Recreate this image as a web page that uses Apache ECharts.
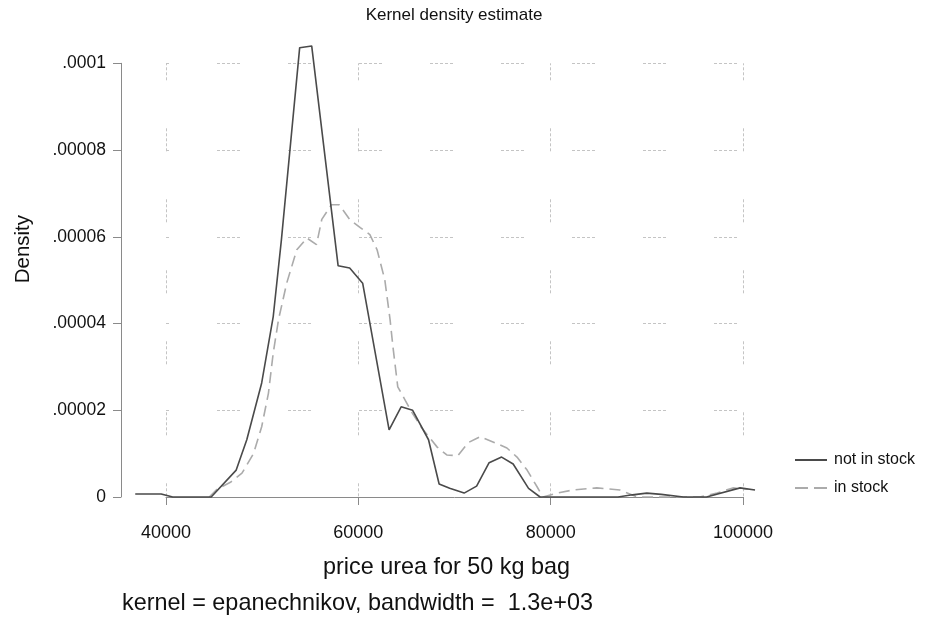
<!DOCTYPE html>
<html>
<head>
<meta charset="utf-8">
<script src="https://cdn.jsdelivr.net/npm/echarts@6/dist/echarts.min.js"></script>
<style>
  html, body { margin: 0; padding: 0; background: #fff; }
  #chart { width: 927px; height: 619px; }
</style>
</head>
<body>
<div id="chart"></div>
<script>
// Kernel density estimates of urea price, [price, density] pairs
const notInStock = [
  [36800, 0.0000007], [39500, 0.0000007], [40700, 0], [44700, 0],
  [47300, 0.0000062], [48400, 0.0000132], [49950, 0.0000263], [51150, 0.0000416],
  [52000, 0.0000593], [53900, 0.0001036], [55150, 0.000104], [57900, 0.0000533],
  [59100, 0.0000528], [60450, 0.0000493], [63200, 0.0000155], [64450, 0.0000208],
  [65650, 0.0000200], [67300, 0.0000132], [68400, 0.0000030], [69500, 0.0000020],
  [71000, 0.0000009], [72300, 0.0000025], [73600, 0.0000079], [74900, 0.0000092],
  [76100, 0.0000076], [77700, 0.0000020], [78900, 0], [87000, 0],
  [88500, 0.0000005], [90000, 0.0000009], [91500, 0.0000006], [93800, 0],
  [96200, 0], [99700, 0.0000021], [101250, 0.0000016]
];
const inStock = [
  [44500, 0], [45300, 0.0000018], [46700, 0.0000034], [47900, 0.0000055],
  [49100, 0.0000100], [49950, 0.0000162], [50650, 0.0000239], [51150, 0.0000332],
  [51700, 0.0000409], [52550, 0.0000493], [53600, 0.0000570], [54650, 0.0000597],
  [55650, 0.0000582], [56200, 0.0000640], [57200, 0.0000674], [58000, 0.0000674],
  [59100, 0.0000640], [60200, 0.0000621], [61200, 0.0000605], [61950, 0.0000570],
  [62750, 0.0000501], [63300, 0.0000409], [63600, 0.0000346], [64100, 0.0000254],
  [64850, 0.0000224], [65600, 0.0000194], [66600, 0.0000159], [68200, 0.0000115],
  [69200, 0.0000097], [70350, 0.0000095], [71400, 0.0000125], [72650, 0.0000139],
  [74000, 0.0000127], [75450, 0.0000113], [76500, 0.0000092], [77550, 0.0000062],
  [78600, 0.0000023], [79200, 0], [80650, 0.0000009], [82300, 0.0000016],
  [84800, 0.0000021], [87200, 0.0000016], [89000, 0], [95500, 0],
  [97300, 0.0000009], [98950, 0.0000021], [100500, 0.0000018]
];
const seriesNames = ['not in stock', 'in stock'];
const xTicks = [40000, 60000, 80000, 100000];
const yTicks = [0, 0.00002, 0.00004, 0.00006, 0.00008, 0.0001];
const yTickLabels = ['0', '.00002', '.00004', '.00006', '.00008', '.0001'];
// full price range covered by the estimates (curves run past the labelled ticks)
const xDataRange = [36000, 102000];

const FONT = '"Liberation Sans", Arial, Helvetica, sans-serif';
const gridDash = [3, 2, 3, 2, 3, 2, 3, 2, 3, 48];
const AXIS_GREY = '#8a8a8a';
const SOLID_COL = '#4a4a4a';
const DASH_COL = '#ababab';

// pixel layout: tick range 40000..100000 spans x 166..743, 0..0.0001 spans y 497..63.3
const PX_LEFT = 166, PX_RIGHT = 743, PX_TOP = 63.3, PX_BOTTOM = 497, W = 927, H = 619;
const pxPerUnit = (PX_RIGHT - PX_LEFT) / (xTicks[xTicks.length - 1] - xTicks[0]);
const dataLeft = PX_LEFT - (xTicks[0] - xDataRange[0]) * pxPerUnit;
const dataRight = PX_RIGHT + (xDataRange[1] - xTicks[xTicks.length - 1]) * pxPerUnit;

const chart = echarts.init(document.getElementById('chart'), null, { renderer: 'canvas' });

chart.setOption({
  backgroundColor: '#ffffff',
  animation: false,
  title: [
    {
      text: 'Kernel density estimate',
      left: 454, top: 7, textAlign: 'center', padding: 0,
      textStyle: { fontFamily: FONT, fontSize: 17, fontWeight: 'normal', color: '#111' }
    },
    {
      text: 'kernel = epanechnikov, bandwidth =  1.3e+03',
      left: 122, top: 592, padding: 0,
      textStyle: { fontFamily: FONT, fontSize: 23.4, fontWeight: 'normal', color: '#111' }
    }
  ],
  legend: {
    orient: 'vertical',
    left: 790, top: 447,
    itemWidth: 32, itemHeight: 2, itemGap: 12,
    data: [
      { name: seriesNames[0], icon: 'rect' },
      { name: seriesNames[1], icon: 'path://M0,0H13V2H0Z M19,0H32V2H19Z' }
    ],
    textStyle: { fontFamily: FONT, fontSize: 16, color: '#111', lineHeight: 16, padding: [0, 0, 0, 2] }
  },
  grid: [
    // axes, ticks and grid lines
    { left: PX_LEFT, right: W - PX_RIGHT, top: PX_TOP, bottom: H - PX_BOTTOM },
    // plotting area for the curves, covering the whole estimated range
    { left: dataLeft, right: W - dataRight, top: PX_TOP, bottom: H - PX_BOTTOM }
  ],
  xAxis: [
    {
      gridIndex: 0, type: 'value',
      min: xTicks[0], max: xTicks[xTicks.length - 1], interval: 20000,
      offset: 17,
      name: 'price urea for 50 kg bag',
      nameLocation: 'middle', nameGap: 42,
      nameTextStyle: { fontFamily: FONT, fontSize: 23.4, color: '#111', padding: [0, 16, 0, 0] },
      axisLine: { show: true, lineStyle: { color: AXIS_GREY, width: 1 } },
      axisTick: { show: true, length: 8, lineStyle: { color: AXIS_GREY } },
      axisLabel: { margin: 10, fontFamily: FONT, fontSize: 18, color: '#111', formatter: v => String(v) },
      splitLine: { show: true, lineStyle: { color: '#c4c4c4', width: 1, type: gridDash, dashOffset: 6 } }
    },
    {
      gridIndex: 1, type: 'value', show: false,
      min: xDataRange[0], max: xDataRange[1]
    }
  ],
  yAxis: [
    {
      gridIndex: 0, type: 'value',
      min: yTicks[0], max: yTicks[yTicks.length - 1], interval: 0.00002,
      offset: 45,
      name: 'Density',
      nameLocation: 'middle', nameGap: 87, nameRotate: 90,
      nameTextStyle: { fontFamily: FONT, fontSize: 20.5, color: '#111', padding: [0, 0, 0, 62] },
      axisLine: { show: true, lineStyle: { color: AXIS_GREY, width: 1 } },
      axisTick: { show: true, length: 8, lineStyle: { color: AXIS_GREY } },
      axisLabel: {
        margin: 15, fontFamily: FONT, fontSize: 17.5, color: '#111',
        formatter: v => {
          const i = yTicks.findIndex(t => Math.abs(t - v) < 1e-9);
          return i >= 0 ? yTickLabels[i] : '';
        }
      },
      splitLine: { show: true, lineStyle: { color: '#c4c4c4', width: 1, type: gridDash, dashOffset: 20 } }
    },
    {
      gridIndex: 1, type: 'value', show: false,
      min: yTicks[0], max: yTicks[yTicks.length - 1]
    }
  ],
  series: [
    {
      name: seriesNames[0], type: 'line', data: notInStock,
      xAxisIndex: 1, yAxisIndex: 1,
      symbol: 'none', showSymbol: false, clip: false, z: 3,
      lineStyle: { color: SOLID_COL, width: 1.6, type: 'solid' },
      itemStyle: { color: SOLID_COL }
    },
    {
      name: seriesNames[1], type: 'line', data: inStock,
      xAxisIndex: 1, yAxisIndex: 1,
      symbol: 'none', showSymbol: false, clip: false, z: 2,
      lineStyle: { color: DASH_COL, width: 1.6, type: [11, 6] },
      itemStyle: { color: DASH_COL }
    }
  ]
});
</script>
</body>
</html>
